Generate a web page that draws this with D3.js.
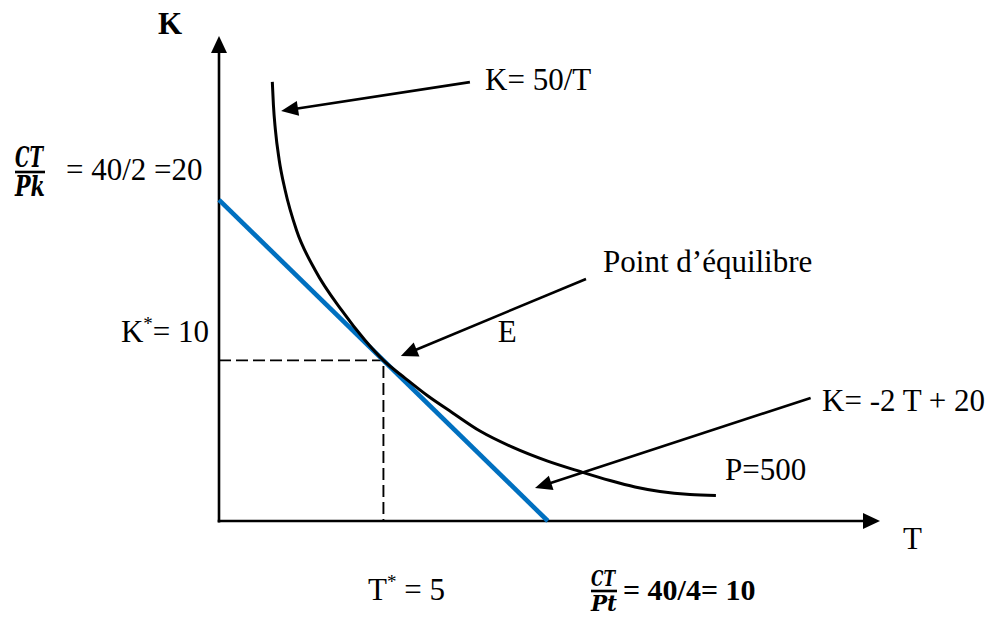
<!DOCTYPE html>
<html>
<head>
<meta charset="utf-8">
<script src="https://cdn.jsdelivr.net/npm/d3@7"></script>
<style>
  body { margin: 0; background: #fff; }
  svg { display: block; }
  text { font-family: "Liberation Serif", "Times New Roman", serif; fill: #000; }
  .frac { font-family: "DejaVu Serif", serif; font-weight: bold; font-style: italic; }
</style>
</head>
<body>
<svg id="chart" width="994" height="617"></svg>
<script>
// Budget (isocost) line K = -2T + 20, from the K intercept to the T intercept
const budgetT = [0, 10];
const budgetK = [20, 0];

// Isoquant P = 500 (K = 50/T), points along the drawn curve
const isoT = [1.621, 1.655, 1.715, 1.83, 2.01, 2.36, 2.93, 3.734, 4.440, 5.0, 5.656, 6.355, 7.085, 7.937, 8.940, 9.974, 10.977, 11.89, 12.65, 13.41, 14.32, 15.11];
const isoK = [27.34, 25.90, 24.35, 22.48, 20.61, 18.09, 15.60, 13.11, 11.25, 10.0, 8.90, 7.78, 6.76, 5.60, 4.58, 3.74, 3.08, 2.52, 2.12, 1.84, 1.65, 1.59];

// Equilibrium point E
const optT = 5;
const optK = 10;

// Reach of the two axes (in T and K units)
const axisT = 20.1;
const axisK = 30.2;

// Callouts: label anchor and arrow (from -> tip), in T/K units
const calloutText = ["K= 50/T", "Point d\u2019\u00e9quilibre", "K= -2 T + 20"];
const calloutAt = [[8.09, 26.84], [11.68, 15.5], [18.34, 6.85]];
const calloutFrom = [[7.63, 27.33], [11.16, 15.07], [17.99, 7.66]];
const calloutTip = [[1.89, 25.53], [5.53, 10.27], [9.61, 2.05]];

// Plain labels placed in T/K units
const plainText = ["E", "P=500"];
const plainAt = [[8.48, 11.15], [15.39, 2.55]];

const svg = d3.select("#chart");

const x = d3.scaleLinear().domain([0, axisT]).range([219, 880]);
const y = d3.scaleLinear().domain([0, axisK]).range([521, 36]);

// filled arrowhead pointing from (x0,y0) towards (x1,y1), tip at (x1,y1)
function arrowHead(g, x0, y0, x1, y1, len, half) {
  const a = Math.atan2(y1 - y0, x1 - x0);
  const bx = x1 - len * Math.cos(a), by = y1 - len * Math.sin(a);
  const px = -Math.sin(a) * half, py = Math.cos(a) * half;
  g.append("path")
    .attr("d", `M${x1},${y1}L${bx + px},${by + py}L${bx - px},${by - py}Z`)
    .attr("fill", "#000");
}

// Axes
const axes = svg.append("g");
axes.append("line")
  .attr("x1", x(0)).attr("y1", y(0) + 1.5)
  .attr("x2", x(0)).attr("y2", y(axisK) + 12)
  .attr("stroke", "#000").attr("stroke-width", 2.6);
arrowHead(axes, x(0), y(0), x(0), y(axisK), 17, 8);
axes.append("line")
  .attr("x1", x(0) - 1.3).attr("y1", y(0))
  .attr("x2", x(axisT) - 12).attr("y2", y(0))
  .attr("stroke", "#000").attr("stroke-width", 2.6);
arrowHead(axes, x(0), y(0), x(axisT), y(0), 17, 8);

// Dashed guides to the equilibrium
svg.append("path")
  .attr("d", `M${x(0)},${y(optK)}H${x(optT)}V${y(0)}`)
  .attr("fill", "none")
  .attr("stroke", "#000")
  .attr("stroke-width", 1.9)
  .attr("stroke-dasharray", "12,5");

// Budget line
svg.append("line")
  .attr("x1", x(budgetT[0])).attr("y1", y(budgetK[0]))
  .attr("x2", x(budgetT[1])).attr("y2", y(budgetK[1]))
  .attr("stroke", "#0070C0")
  .attr("stroke-width", 4.6);

// Isoquant
const iso = isoT.map((t, i) => [t, isoK[i]]);
svg.append("path")
  .datum(iso)
  .attr("d", d3.line().x(d => x(d[0])).y(d => y(d[1])).curve(d3.curveMonotoneX))
  .attr("fill", "none")
  .attr("stroke", "#000")
  .attr("stroke-width", 3);

// Callouts with arrows
const notes = svg.append("g");
calloutText.forEach((txt, i) => {
  const [fx, fy] = [x(calloutFrom[i][0]), y(calloutFrom[i][1])];
  const [tx, ty] = [x(calloutTip[i][0]), y(calloutTip[i][1])];
  const a = Math.atan2(ty - fy, tx - fx);
  notes.append("line")
    .attr("x1", fx).attr("y1", fy)
    .attr("x2", tx - 10 * Math.cos(a)).attr("y2", ty - 10 * Math.sin(a))
    .attr("stroke", "#000").attr("stroke-width", 2.6);
  arrowHead(notes, fx, fy, tx, ty, 17, 7.5);
  notes.append("text")
    .attr("x", x(calloutAt[i][0])).attr("y", y(calloutAt[i][1]))
    .attr("font-size", 31)
    .text(txt);
});
plainText.forEach((txt, i) => {
  notes.append("text")
    .attr("x", x(plainAt[i][0])).attr("y", y(plainAt[i][1]))
    .attr("font-size", 31)
    .text(txt);
});

// Axis titles
svg.append("text").attr("x", 158).attr("y", 34)
  .attr("font-size", 31).attr("font-weight", "bold").text("K");
svg.append("text").attr("x", 903).attr("y", 549)
  .attr("font-size", 31).text("T");

// K* = 10 on the vertical axis
const kStar = svg.append("text").attr("x", 209).attr("y", 342)
  .attr("font-size", 31).attr("text-anchor", "end");
kStar.append("tspan").text("K");
kStar.append("tspan").attr("font-size", 19).attr("dy", -12).text("*");
kStar.append("tspan").attr("dy", 12).text("= 10");

// T* = 5 under the horizontal axis
const tStar = svg.append("text").attr("x", 368).attr("y", 600)
  .attr("font-size", 31);
tStar.append("tspan").text("T");
tStar.append("tspan").attr("font-size", 19).attr("dy", -12).text("*");
tStar.append("tspan").attr("dy", 12).text(" = 5");

// Fraction helper: numerator over denominator, left edge at x0
function fraction(x0, barY, w, num, den, size) {
  const g = svg.append("g");
  g.append("text").attr("class", "frac").attr("x", x0).attr("y", barY - 5)
    .attr("font-size", size)
    .attr("textLength", w - 2).attr("lengthAdjust", "spacingAndGlyphs")
    .text(num);
  g.append("line").attr("x1", x0).attr("x2", x0 + w)
    .attr("y1", barY).attr("y2", barY)
    .attr("stroke", "#000").attr("stroke-width", 2.6);
  g.append("text").attr("class", "frac").attr("x", x0).attr("y", barY + size * 0.88)
    .attr("font-size", size)
    .attr("textLength", w).attr("lengthAdjust", "spacingAndGlyphs")
    .text(den);
}

// K intercept: CT / Pk = 40/2 = 20
fraction(15, 172, 30, "CT", "Pk", 27);
svg.append("text").attr("x", 66).attr("y", 180).attr("font-size", 31)
  .text("= 40/2 =20");

// T intercept: CT / Pt = 40/4 = 10
fraction(591, 591, 26, "CT", "Pt", 23);
svg.append("text").attr("x", 623).attr("y", 600).attr("font-size", 30)
  .attr("font-weight", "bold").text("= 40/4= 10");
</script>
</body>
</html>
